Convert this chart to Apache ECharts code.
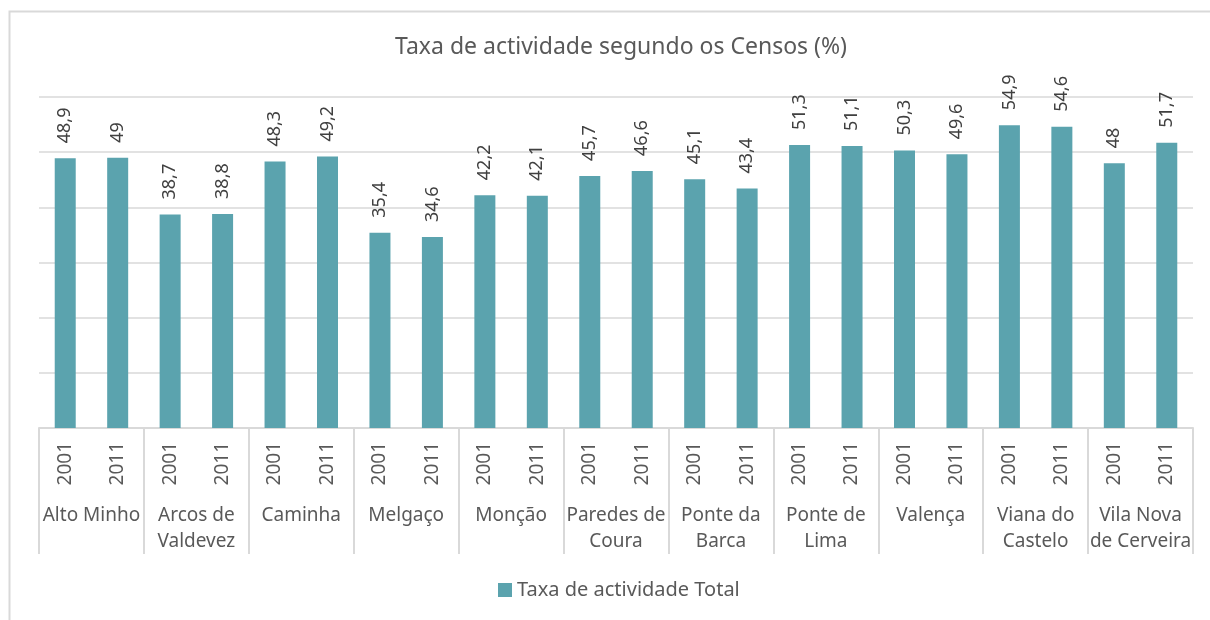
<!DOCTYPE html>
<html>
<head>
<meta charset="utf-8">
<script src="https://cdn.jsdelivr.net/npm/echarts@6/dist/echarts.min.js"></script>
<style>
  html, body { margin: 0; padding: 0; background: #fff; }
  #chart { width: 1210px; height: 620px; }
</style>
</head>
<body>
<div id="chart"></div>
<script>
const regions = ['Alto Minho', 'Arcos de\nValdevez', 'Caminha', 'Melgaço', 'Monção', 'Paredes de\nCoura', 'Ponte da\nBarca', 'Ponte de\nLima', 'Valença', 'Viana do\nCastelo', 'Vila Nova\nde Cerveira']
const years = ['2001', '2011']
const values = [48.9, 49, 38.7, 38.8, 48.3, 49.2, 35.4, 34.6, 42.2, 42.1, 45.7, 46.6, 45.1, 43.4, 51.3, 51.1, 50.3, 49.6, 54.9, 54.6, 48, 51.7]
const seriesName = 'Taxa de actividade Total'

const yearCats = []
regions.forEach(() => years.forEach(y => yearCats.push(y)))

const font = 'Noto Sans'
const textColor = '#595959'
const lineColor = '#d9d9d9'

const chart = echarts.init(document.getElementById('chart'))
chart.setOption({
  animation: false,
  textStyle: { fontFamily: font },
  title: {
    text: 'Taxa de actividade segundo os Censos (%)',
    left: 390,
    top: 31,
    textStyle: { fontFamily: font, fontSize: 23, fontWeight: 'normal', color: textColor }
  },
  graphic: [{
    type: 'rect',
    shape: { x: 9.5, y: 11.5, width: 1220, height: 640 },
    style: { fill: 'none', stroke: lineColor, lineWidth: 2 },
    silent: true
  }],
  legend: {
    bottom: 15,
    left: 493,
    itemWidth: 14,
    itemHeight: 14,
    itemGap: 4,
    icon: 'rect',
    textStyle: { fontFamily: font, fontSize: 20, color: textColor },
    data: [seriesName]
  },
  grid: { left: 39, right: 17, top: 97, bottom: 192 },
  xAxis: [{
    type: 'category',
    data: yearCats,
    position: 'bottom',
    axisLine: { lineStyle: { color: lineColor, width: 2 } },
    axisTick: { show: false },
    axisLabel: { interval: 0, rotate: 90, margin: 14, fontSize: 19, color: textColor, fontFamily: font }
  }, {
    type: 'category',
    data: regions,
    position: 'bottom',
    axisLine: { show: false },
    axisTick: { show: true, interval: 0, length: 126, lineStyle: { color: lineColor, width: 2 } },
    axisLabel: { interval: 0, margin: 75, fontSize: 19, lineHeight: 26, color: textColor, fontFamily: font, verticalAlign: 'top' }
  }],
  yAxis: {
    type: 'value',
    min: 0,
    max: 60,
    interval: 10,
    axisLabel: { show: false },
    axisLine: { show: false },
    axisTick: { show: false },
    splitLine: { lineStyle: { color: lineColor, width: 1.5 } }
  },
  series: [{
    name: seriesName,
    type: 'bar',
    xAxisIndex: 0,
    data: values,
    barWidth: 21,
    itemStyle: { color: '#5ba3ae' },
    label: {
      show: true,
      position: 'top',
      rotate: 90,
      align: 'left',
      verticalAlign: 'middle',
      distance: 15,
      fontSize: 18,
      color: '#404040',
      fontFamily: font,
      formatter: p => String(p.value).replace('.', ',')
    }
  }]
})
</script>
</body>
</html>
